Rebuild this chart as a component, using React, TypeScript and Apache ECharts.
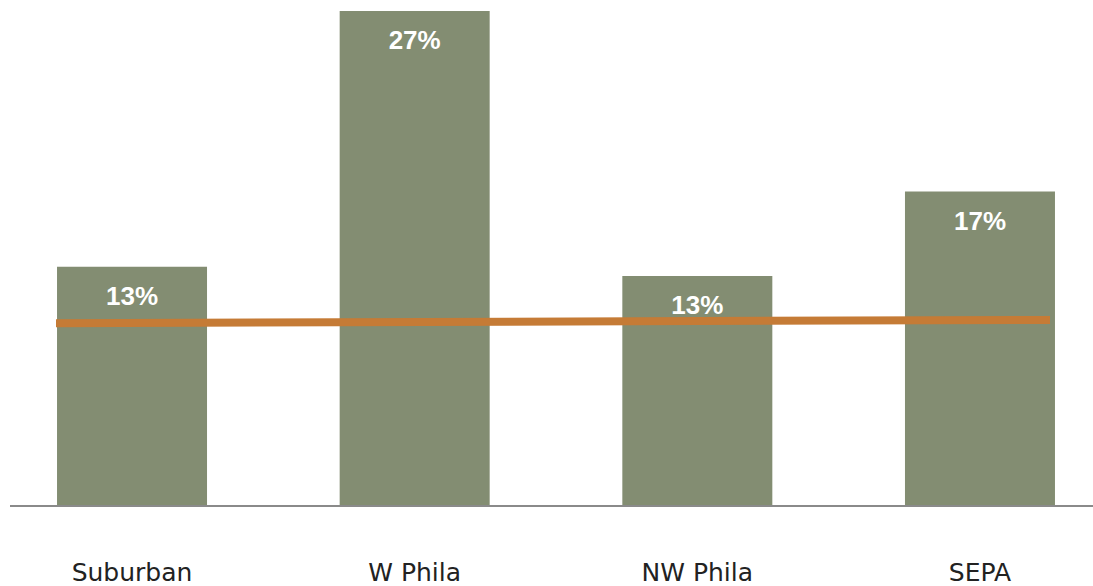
import React, { useEffect, useRef } from "react";
import * as echarts from "echarts";

const categories = ["Suburban", "W Phila", "NW Phila", "SEPA"];
const barValues = [13.05, 27.0, 12.55, 17.15];
const barLabels = ["13%", "27%", "13%", "17%"];
const lineCategories = ["start", "end"];
const lineValues = [9.97, 10.15];

export default function App() {
  const ref = useRef<HTMLDivElement>(null);
  useEffect(() => {
    if (!ref.current) return;
    const chart = echarts.init(ref.current, undefined, { renderer: "svg" });
    chart.setOption({
      animation: false,
      backgroundColor: "#ffffff",
      grid: [
        { left: -9.3, right: -28.3, top: 11, bottom: 80, containLabel: false, outerBoundsMode: "none" },
        { left: 56, right: 43, top: 11, bottom: 80, containLabel: false, outerBoundsMode: "none" },
      ],
      xAxis: [
        {
          type: "category",
          gridIndex: 0,
          data: categories,
          axisLine: { show: false },
          axisTick: { show: false },
          axisLabel: {
            margin: 54,
            fontSize: 25,
            color: "#222222",
            fontFamily: "DejaVu Sans",
          },
        },
        {
          type: "category",
          gridIndex: 1,
          data: lineCategories,
          boundaryGap: false,
          show: false,
        },
      ],
      yAxis: [
        { type: "value", gridIndex: 0, min: 0, max: 27, show: false },
        { type: "value", gridIndex: 1, min: 0, max: 27, show: false },
      ],
      series: [
        {
          type: "bar",
          xAxisIndex: 0,
          yAxisIndex: 0,
          data: barValues,
          barWidth: 150,
          z: 2,
          itemStyle: { color: "#838D72" },
          label: {
            show: true,
            position: "insideTop",
            distance: 16,
            color: "#ffffff",
            fontSize: 26,
            fontWeight: "bold",
            fontFamily: "Liberation Sans",
            formatter: (p: any) => barLabels[p.dataIndex],
          },
        },
        {
          type: "line",
          xAxisIndex: 1,
          yAxisIndex: 1,
          data: lineValues,
          symbol: "none",
          z: 10,
          lineStyle: { color: "#C57B36", width: 8, cap: "butt" },
        },
      ],
      graphic: [
        {
          type: "line",
          shape: { x1: 10, y1: 506, x2: 1093, y2: 506 },
          style: { stroke: "#8a8a8a", lineWidth: 2 },
          z: 5,
        },
      ],
    });
    return () => chart.dispose();
  }, []);
  return <div ref={ref} style={{ width: 1093, height: 586, position: "absolute", left: 0, top: 0 }} />;
}
